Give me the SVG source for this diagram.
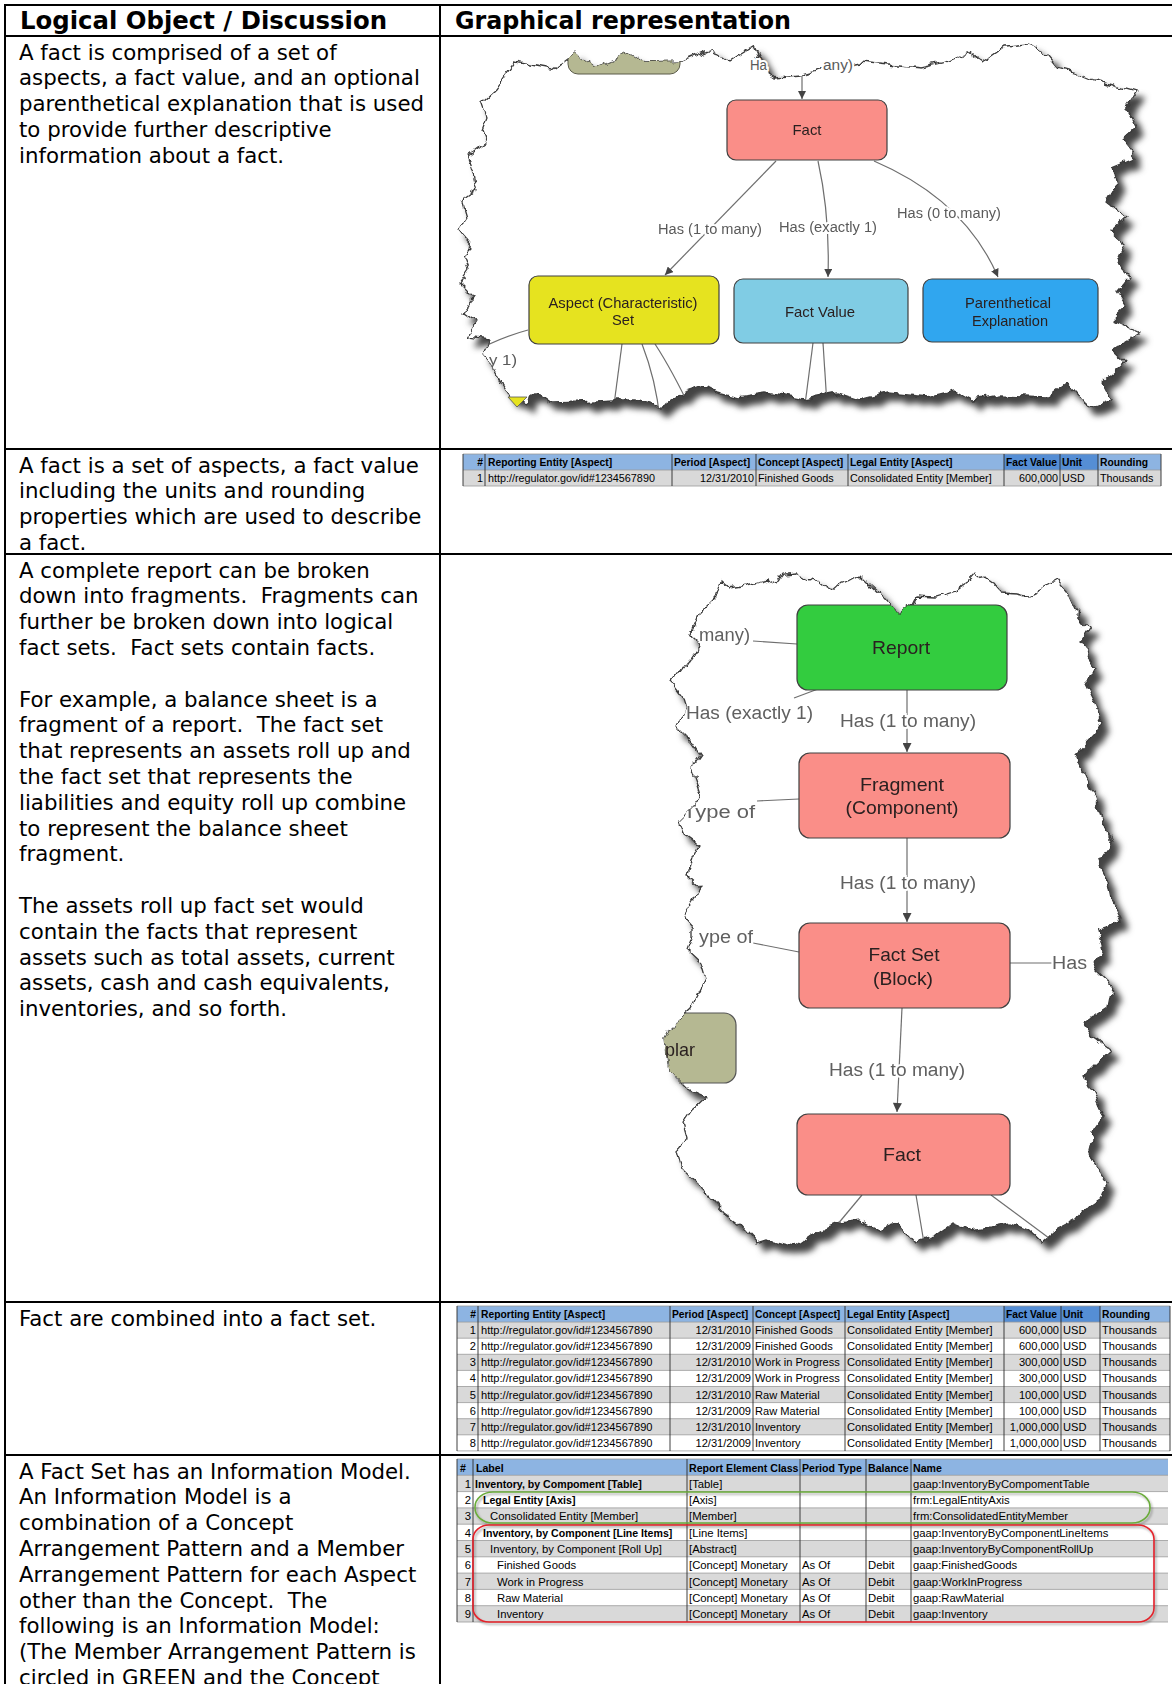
<svg xmlns="http://www.w3.org/2000/svg" width="1172" height="1684" viewBox="0 0 1172 1684">
<style>
  .body { font-family: "DejaVu Sans", Verdana, sans-serif; font-size: 21.3px; fill: #000; white-space: pre; }
  .hdr { font-family: "DejaVu Sans", Verdana, sans-serif; font-size: 24px; font-weight: bold; fill: #000; }
  .grid { stroke: #000; stroke-width: 2; }
  .tb { font-family: "Liberation Sans", Arial, sans-serif; font-size: 10.8px; fill: #000; }
  .tb2 { font-family: "Liberation Sans", Arial, sans-serif; font-size: 11.1px; fill: #000; }
  .tb3 { font-family: "Liberation Sans", Arial, sans-serif; font-size: 11.3px; fill: #000; }
  .b { font-weight: bold; font-size: 10.3px; }
  .tb3 .b, .tb3.b { font-size: 10.6px; }
  .r { text-anchor: end; }
  .vl { stroke: #2b2b2b; stroke-width: 0.9; }
  .hl { stroke: #9a9a9a; stroke-width: 0.8; }
  .hbl { fill: #8DB4E2; }
  .hdk { fill: #558ED5; }
  .gr { fill: #D9D9D9; }
  .paper { fill: #fff; stroke: #3a3a3a; stroke-width: 1.3; }
  .node { stroke: #404040; stroke-width: 1.2; }
  .nl { font-family: "Liberation Sans", Arial, sans-serif; font-size: 15px; fill: #2a2020; text-anchor: middle; }
  .nl3 { font-family: "Liberation Sans", Arial, sans-serif; font-size: 19px; fill: #2a2020; text-anchor: middle; }
  .el { font-family: "Liberation Sans", Arial, sans-serif; font-size: 14px; fill: #5a5a5a; paint-order: stroke; stroke: #fff; stroke-width: 4; }
  .el3 { font-family: "Liberation Sans", Arial, sans-serif; font-size: 18px; fill: #606060; paint-order: stroke; stroke: #fff; stroke-width: 4; }
  .edge { fill: none; stroke: #6e6e6e; stroke-width: 1.2; }
  .pink { fill: #FA8E88; }
</style>
<defs>
  <marker id="arr" viewBox="0 0 10 10" refX="10" refY="5" markerWidth="8" markerHeight="8" markerUnits="userSpaceOnUse" orient="auto">
    <path d="M0,0 L10,5 L0,10 z" fill="#444"/>
  </marker>
  <marker id="arrL" viewBox="0 0 10 10" refX="10" refY="5" markerWidth="10" markerHeight="9" markerUnits="userSpaceOnUse" orient="auto">
    <path d="M0,0 L10,5 L0,10 z" fill="#444"/>
  </marker>
  <!-- torn paper: noisy edge plus soft drop shadow -->
  <filter id="paperFx" filterUnits="userSpaceOnUse" primitiveUnits="userSpaceOnUse" x="440" y="20" width="732" height="1260" color-interpolation-filters="sRGB">
    <feTurbulence type="fractalNoise" baseFrequency="0.07" numOctaves="3" seed="7" result="n"/>
    <feDisplacementMap in="SourceGraphic" in2="n" scale="11" xChannelSelector="R" yChannelSelector="G" result="torn"/>
    <feGaussianBlur in="torn" stdDeviation="3.2" result="b"/>
    <feOffset in="b" dx="7" dy="8" result="o"/>
    <feFlood flood-color="#222" flood-opacity="0.85"/>
    <feComposite in2="o" operator="in" result="sh"/>
    <feMerge><feMergeNode in="sh"/><feMergeNode in="torn"/></feMerge>
  </filter>
  <filter id="tornFx" filterUnits="userSpaceOnUse" primitiveUnits="userSpaceOnUse" x="440" y="20" width="732" height="1260" color-interpolation-filters="sRGB">
    <feTurbulence type="fractalNoise" baseFrequency="0.07" numOctaves="3" seed="7" result="n"/>
    <feDisplacementMap in="SourceGraphic" in2="n" scale="11" xChannelSelector="R" yChannelSelector="G"/>
  </filter>
  <filter id="ringShadow" x="-5%" y="-30%" width="110%" height="160%">
    <feDropShadow dx="1.5" dy="2" stdDeviation="1.2" flood-color="#000" flood-opacity="0.35"/>
  </filter>
  <path id="paper1" d="M515,63 L552,70 L575,53 L594,68 L631,53 L645,63 L683,62 L711,50 L729,62 L753,47 L762,67 L776,77 L799,75 L827,67 L846,65 L860,62 L888,65 L921,68 L944,63 L968,53 L982,63 L1005,47 L1028,45 L1042,50 L1056,67 L1075,72 L1094,80 L1112,85 L1136,92 L1126,107 L1136,127 L1122,140 L1136,157 L1112,167 L1117,187 L1108,203 L1126,217 L1112,230 L1126,243 L1117,263 L1131,277 L1117,293 L1126,307 L1112,320 L1140,333 L1112,350 L1126,363 L1103,383 L1112,400 L1094,407 L1084,403 L1066,383 L1047,397 L1000,395 L972,400 L954,390 L926,397 L888,393 L860,400 L837,393 L804,400 L767,393 L739,397 L701,387 L683,393 L659,407 L636,400 L613,400 L580,402 L552,403 L538,393 L524,403 L510,397 L501,383 L491,363 L482,353 L491,340 L468,337 L477,323 L463,313 L473,297 L459,283 L468,270 L463,257 L473,247 L459,230 L468,217 L463,200 L477,190 L473,173 L468,157 L487,143 L482,130 L487,117 L482,103 L496,90 L505,77 Z"/>
  <path id="paper3" d="M720,580 L729,588 L748,585 L767,580 L776,585 L785,573 L795,572 L809,580 L813,577 L823,585 L832,590 L841,582 L851,580 L860,575 L870,585 L884,598 L900,615 L912,605 L916,597 L935,598 L954,592 L968,582 L977,572 L991,582 L1000,592 L1019,593 L1028,595 L1042,588 L1056,580 L1066,592 L1075,612 L1089,628 L1080,642 L1089,655 L1098,668 L1084,682 L1094,702 L1103,722 L1094,735 L1075,755 L1084,775 L1094,795 L1103,822 L1112,842 L1098,862 L1108,882 L1112,902 L1122,922 L1098,930 L1103,950 L1094,970 L1112,987 L1108,1007 L1084,1023 L1094,1037 L1112,1050 L1098,1063 L1084,1077 L1094,1097 L1103,1117 L1094,1130 L1089,1150 L1094,1163 L1108,1183 L1103,1197 L1084,1210 L1075,1220 L1056,1230 L1042,1243 L1028,1230 L1010,1223 L991,1227 L972,1230 L954,1223 L935,1237 L916,1243 L898,1223 L879,1230 L860,1220 L841,1223 L823,1230 L809,1237 L795,1247 L767,1240 L757,1243 L739,1223 L725,1213 L711,1197 L697,1183 L683,1170 L678,1150 L687,1137 L683,1123 L692,1110 L706,1097 L686,1088 L670,1072 L668,1057 L666,1040 L676,1022 L692,1007 L697,997 L706,980 L701,963 L687,950 L692,937 L692,928 L683,918 L692,902 L701,888 L687,875 L692,855 L697,845 L683,835 L678,822 L692,808 L701,795 L697,782 L692,768 L701,755 L692,742 L678,728 L687,708 L683,695 L673,682 L683,668 L692,655 L701,648 L692,632 L701,612 L715,598 Z"/>
  <mask id="clip1" maskUnits="userSpaceOnUse" x="440" y="20" width="732" height="420">
    <use href="#paper1" fill="#fff" filter="url(#tornFx)"/>
  </mask>
  <mask id="clip3" maskUnits="userSpaceOnUse" x="440" y="540" width="732" height="740">
    <use href="#paper3" fill="#fff" filter="url(#tornFx)"/>
  </mask>
</defs>

<rect x="0" y="0" width="1172" height="1684" fill="#fff"/>

<!-- header row -->
<g id="header">
  <text class="hdr" x="20" y="29" textLength="367" lengthAdjust="spacingAndGlyphs">Logical Object / Discussion</text>
  <text class="hdr" x="455" y="29" textLength="336" lengthAdjust="spacingAndGlyphs">Graphical representation</text>
</g>

<!-- left column discussion texts -->
<g id="discussion-fact">
  <text class="body" x="19" y="59.5">A fact is comprised of a set of</text>
  <text class="body" x="19" y="85.3">aspects, a fact value, and an optional</text>
  <text class="body" x="19" y="111.1">parenthetical explanation that is used</text>
  <text class="body" x="19" y="136.9">to provide further descriptive</text>
  <text class="body" x="19" y="162.7">information about a fact.</text>
</g>
<g id="discussion-fact-table">
  <text class="body" x="19" y="472.5">A fact is a set of aspects, a fact value</text>
  <text class="body" x="19" y="498.3">including the units and rounding</text>
  <text class="body" x="19" y="524.1">properties which are used to describe</text>
  <text class="body" x="19" y="549.9">a fact.</text>
</g>
<g id="discussion-report">
  <text class="body" x="19" y="577.5">A complete report can be broken</text>
  <text class="body" x="19" y="603.3">down into fragments.  Fragments can</text>
  <text class="body" x="19" y="629.1">further be broken down into logical</text>
  <text class="body" x="19" y="654.9">fact sets.  Fact sets contain facts.</text>
  <text class="body" x="19" y="706.5">For example, a balance sheet is a</text>
  <text class="body" x="19" y="732.3">fragment of a report.  The fact set</text>
  <text class="body" x="19" y="758.1">that represents an assets roll up and</text>
  <text class="body" x="19" y="783.9">the fact set that represents the</text>
  <text class="body" x="19" y="809.7">liabilities and equity roll up combine</text>
  <text class="body" x="19" y="835.5">to represent the balance sheet</text>
  <text class="body" x="19" y="861.3">fragment.</text>
  <text class="body" x="19" y="912.9">The assets roll up fact set would</text>
  <text class="body" x="19" y="938.7">contain the facts that represent</text>
  <text class="body" x="19" y="964.5">assets such as total assets, current</text>
  <text class="body" x="19" y="990.3">assets, cash and cash equivalents,</text>
  <text class="body" x="19" y="1016.1">inventories, and so forth.</text>
</g>
<g id="discussion-fact-set">
  <text class="body" x="19" y="1325.5">Fact are combined into a fact set.</text>
</g>
<g id="discussion-information-model">
  <text class="body" x="19" y="1478.5">A Fact Set has an Information Model.</text>
  <text class="body" x="19" y="1504.3">An Information Model is a</text>
  <text class="body" x="19" y="1530.1">combination of a Concept</text>
  <text class="body" x="19" y="1555.9">Arrangement Pattern and a Member</text>
  <text class="body" x="19" y="1581.7">Arrangement Pattern for each Aspect</text>
  <text class="body" x="19" y="1607.5">other than the Concept.  The</text>
  <text class="body" x="19" y="1633.3">following is an Information Model:</text>
  <text class="body" x="19" y="1659.1">(The Member Arrangement Pattern is</text>
  <text class="body" x="19" y="1684.9">circled in GREEN and the Concept</text>
</g>

<!-- ===== diagram 1: fact and its parts ===== -->
<g id="fact-diagram">
  <use href="#paper1" class="paper" filter="url(#paperFx)"/>
  <g mask="url(#clip1)">
    <rect id="hidden-node-top" x="568" y="20" width="112" height="54" rx="10" fill="#B5B892" stroke="#5a5a48" stroke-width="1"/>
    <g id="edges-1">
      <path class="edge" d="M802,40 L802,99" marker-end="url(#arr)"/>
      <path class="edge" d="M776,161 L665,275" marker-end="url(#arr)"/>
      <path class="edge" d="M818,161 Q830,215 828,277" marker-end="url(#arr)"/>
      <path class="edge" d="M874,161 Q965,200 998,277" marker-end="url(#arr)"/>
      <path class="edge" d="M528,330 Q498,338 466,356"/>
      <path class="edge" d="M622,344 L612,420"/>
      <path class="edge" d="M642,344 Q656,380 660,420"/>
      <path class="edge" d="M655,344 Q672,370 692,412"/>
      <path class="edge" d="M813,343 L803,420"/>
      <path class="edge" d="M823,343 L828,420"/>
    </g>
    <text class="el" x="710" y="234" text-anchor="middle" textLength="104" lengthAdjust="spacingAndGlyphs">Has (1 to many)</text>
    <text class="el" x="828" y="232" text-anchor="middle" textLength="98" lengthAdjust="spacingAndGlyphs">Has (exactly 1)</text>
    <text class="el" x="949" y="218" text-anchor="middle" textLength="104" lengthAdjust="spacingAndGlyphs">Has (0 to many)</text>
    <text class="el" x="489" y="365" textLength="28" lengthAdjust="spacingAndGlyphs">y 1)</text>
    <g id="node-fact">
      <rect class="node pink" x="727" y="100" width="160" height="60" rx="9"/>
      <text class="nl" x="807" y="135" textLength="29" lengthAdjust="spacingAndGlyphs">Fact</text>
    </g>
    <g id="node-aspect-set">
      <rect class="node" x="529" y="276" width="190" height="68" rx="9" fill="#E6E31F"/>
      <text class="nl" x="623" y="308" textLength="149" lengthAdjust="spacingAndGlyphs">Aspect (Characteristic)</text>
      <text class="nl" x="623" y="325" textLength="22" lengthAdjust="spacingAndGlyphs">Set</text>
    </g>
    <g id="node-fact-value">
      <rect class="node" x="734" y="279" width="174" height="64" rx="9" fill="#80CCE4"/>
      <text class="nl" x="820" y="317" textLength="70" lengthAdjust="spacingAndGlyphs">Fact Value</text>
    </g>
    <g id="node-parenthetical">
      <rect class="node" x="923" y="279" width="175" height="63" rx="9" fill="#30A6EF"/>
      <text class="nl" x="1008" y="308" textLength="86" lengthAdjust="spacingAndGlyphs">Parenthetical</text>
      <text class="nl" x="1010" y="326" textLength="76" lengthAdjust="spacingAndGlyphs">Explanation</text>
    </g>
  </g>
  <text class="el" x="750" y="70" textLength="17" lengthAdjust="spacingAndGlyphs" fill="#666">Ha</text>
  <text class="el" x="823" y="70" textLength="30" lengthAdjust="spacingAndGlyphs">any)</text>
  <path d="M508,397 L527,397 L517,407 Z" fill="#E6E31F" stroke="#555" stroke-width="0.8"/>
</g>

<!-- ===== table: single fact ===== -->
<g id="single-fact-table">
  <rect class="hbl" x="463" y="454" width="698" height="16"/>
  <rect class="hdk" x="1004" y="454" width="94" height="16"/>
  <rect class="gr" x="463" y="470" width="698" height="16"/>
  <g class="hl">
    <line x1="463" y1="454" x2="1161" y2="454"/>
    <line x1="463" y1="470" x2="1161" y2="470"/>
    <line x1="463" y1="486" x2="1161" y2="486"/>
  </g>
  <g class="vl">
    <line x1="463" y1="454" x2="463" y2="486"/>
    <line x1="485" y1="454" x2="485" y2="486"/>
    <line x1="672" y1="454" x2="672" y2="486"/>
    <line x1="756" y1="454" x2="756" y2="486"/>
    <line x1="848" y1="454" x2="848" y2="486"/>
    <line x1="1004" y1="454" x2="1004" y2="486"/>
    <line x1="1060" y1="454" x2="1060" y2="486"/>
    <line x1="1098" y1="454" x2="1098" y2="486"/>
    <line x1="1161" y1="454" x2="1161" y2="486"/>
  </g>
  <g class="tb">
    <text class="b r" x="483" y="466">#</text>
    <text class="b" x="488" y="466">Reporting Entity [Aspect]</text>
    <text class="b" x="674" y="466">Period [Aspect]</text>
    <text class="b" x="758" y="466">Concept [Aspect]</text>
    <text class="b" x="850" y="466">Legal Entity [Aspect]</text>
    <text class="b" x="1006" y="466">Fact Value</text>
    <text class="b" x="1062" y="466">Unit</text>
    <text class="b" x="1100" y="466">Rounding</text>
    <text class="r" x="483" y="482">1</text>
    <text x="488" y="482">http://regulator.gov/id#1234567890</text>
    <text class="r" x="754" y="482">12/31/2010</text>
    <text x="758" y="482">Finished Goods</text>
    <text x="850" y="482">Consolidated Entity [Member]</text>
    <text class="r" x="1058" y="482">600,000</text>
    <text x="1062" y="482">USD</text>
    <text x="1100" y="482">Thousands</text>
  </g>
</g>

<!-- ===== diagram 2: report / fragment / fact set / fact ===== -->
<g id="report-diagram">
  <use href="#paper3" class="paper" filter="url(#paperFx)"/>
  <g mask="url(#clip3)">
    <g id="node-exemplar">
      <rect x="640" y="1013" width="96" height="70" rx="12" fill="#B5B892" stroke="#555" stroke-width="1.2"/>
      <text class="nl3" x="680" y="1056" text-anchor="start" textLength="30" lengthAdjust="spacingAndGlyphs">plar</text>
    </g>
    <g id="edges-2">
      <path class="edge" d="M907,690 L907,752" marker-end="url(#arrL)"/>
      <path class="edge" d="M907,838 L907,922" marker-end="url(#arrL)"/>
      <path class="edge" d="M902,1008 L897,1112" marker-end="url(#arrL)"/>
      <path class="edge" d="M753,641 L797,644"/>
      <path class="edge" d="M818,689 L794,698"/>
      <path class="edge" d="M757,801 L799,799"/>
      <path class="edge" d="M753,943 L799,952"/>
      <path class="edge" d="M1010,963 L1052,963"/>
      <path class="edge" d="M862,1195 L812,1255"/>
      <path class="edge" d="M916,1195 L926,1255"/>
      <path class="edge" d="M991,1195 L1065,1250"/>
    </g>
    <text class="el3" x="908" y="727" text-anchor="middle" textLength="136" lengthAdjust="spacingAndGlyphs">Has (1 to many)</text>
    <text class="el3" x="908" y="889" text-anchor="middle" textLength="136" lengthAdjust="spacingAndGlyphs">Has (1 to many)</text>
    <text class="el3" x="897" y="1076" text-anchor="middle" textLength="136" lengthAdjust="spacingAndGlyphs">Has (1 to many)</text>
    <text class="el3" x="699" y="641" textLength="51" lengthAdjust="spacingAndGlyphs">many)</text>
    <text class="el3" x="686" y="719" textLength="127" lengthAdjust="spacingAndGlyphs">Has (exactly 1)</text>
    <text class="el3" x="683" y="818" textLength="72" lengthAdjust="spacingAndGlyphs">Type of</text>
    <text class="el3" x="699" y="943" textLength="54" lengthAdjust="spacingAndGlyphs">ype of</text>
    <text class="el3" x="1052" y="969" textLength="35" lengthAdjust="spacingAndGlyphs">Has</text>
    <g id="node-report">
      <rect class="node" x="797" y="605" width="210" height="85" rx="11" fill="#33CC3F"/>
      <text class="nl3" x="901" y="654" textLength="58" lengthAdjust="spacingAndGlyphs">Report</text>
    </g>
    <g id="node-fragment">
      <rect class="node pink" x="799" y="753" width="211" height="85" rx="11"/>
      <text class="nl3" x="902" y="791" textLength="84" lengthAdjust="spacingAndGlyphs">Fragment</text>
      <text class="nl3" x="902" y="814" textLength="113" lengthAdjust="spacingAndGlyphs">(Component)</text>
    </g>
    <g id="node-fact-set">
      <rect class="node pink" x="799" y="923" width="211" height="85" rx="11"/>
      <text class="nl3" x="904" y="961" textLength="71" lengthAdjust="spacingAndGlyphs">Fact Set</text>
      <text class="nl3" x="903" y="985" textLength="60" lengthAdjust="spacingAndGlyphs">(Block)</text>
    </g>
    <g id="node-fact-2">
      <rect class="node pink" x="797" y="1114" width="213" height="81" rx="11"/>
      <text class="nl3" x="902" y="1161" textLength="38" lengthAdjust="spacingAndGlyphs">Fact</text>
    </g>
  </g>
</g>

<!-- ===== table: facts combined into a fact set ===== -->
<g id="fact-set-table">
  <rect class="hbl" x="457" y="1306" width="713" height="16.1"/>
  <rect class="hdk" x="1004" y="1306" width="96" height="16.1"/>
  <rect class="gr" x="457" y="1322.1" width="713" height="16.1"/>
  <rect class="gr" x="457" y="1354.3" width="713" height="16.1"/>
  <rect class="gr" x="457" y="1386.5" width="713" height="16.1"/>
  <rect class="gr" x="457" y="1418.7" width="713" height="16.1"/>
  <g class="hl">
    <line x1="457" y1="1306" x2="1170" y2="1306"/>
    <line x1="457" y1="1322.1" x2="1170" y2="1322.1"/>
    <line x1="457" y1="1338.2" x2="1170" y2="1338.2"/>
    <line x1="457" y1="1354.3" x2="1170" y2="1354.3"/>
    <line x1="457" y1="1370.4" x2="1170" y2="1370.4"/>
    <line x1="457" y1="1386.5" x2="1170" y2="1386.5"/>
    <line x1="457" y1="1402.6" x2="1170" y2="1402.6"/>
    <line x1="457" y1="1418.7" x2="1170" y2="1418.7"/>
    <line x1="457" y1="1434.8" x2="1170" y2="1434.8"/>
    <line x1="457" y1="1450.9" x2="1170" y2="1450.9"/>
  </g>
  <g class="vl">
    <line x1="457" y1="1306" x2="457" y2="1451"/>
    <line x1="478" y1="1306" x2="478" y2="1451"/>
    <line x1="670" y1="1306" x2="670" y2="1451"/>
    <line x1="753" y1="1306" x2="753" y2="1451"/>
    <line x1="845" y1="1306" x2="845" y2="1451"/>
    <line x1="1004" y1="1306" x2="1004" y2="1451"/>
    <line x1="1061" y1="1306" x2="1061" y2="1451"/>
    <line x1="1100" y1="1306" x2="1100" y2="1451"/>
    <line x1="1170" y1="1306" x2="1170" y2="1451"/>
  </g>
  <g class="tb2">
    <text class="b r" x="476" y="1318">#</text>
    <text class="b" x="481" y="1318">Reporting Entity [Aspect]</text>
    <text class="b" x="672" y="1318">Period [Aspect]</text>
    <text class="b" x="755" y="1318">Concept [Aspect]</text>
    <text class="b" x="847" y="1318">Legal Entity [Aspect]</text>
    <text class="b" x="1006" y="1318">Fact Value</text>
    <text class="b" x="1063" y="1318">Unit</text>
    <text class="b" x="1102" y="1318">Rounding</text>

    <text class="r" x="476" y="1334.1">1</text><text x="481" y="1334.1">http://regulator.gov/id#1234567890</text><text class="r" x="751" y="1334.1">12/31/2010</text><text x="755" y="1334.1">Finished Goods</text><text x="847" y="1334.1">Consolidated Entity [Member]</text><text class="r" x="1059" y="1334.1">600,000</text><text x="1063" y="1334.1">USD</text><text x="1102" y="1334.1">Thousands</text>
    <text class="r" x="476" y="1350.2">2</text><text x="481" y="1350.2">http://regulator.gov/id#1234567890</text><text class="r" x="751" y="1350.2">12/31/2009</text><text x="755" y="1350.2">Finished Goods</text><text x="847" y="1350.2">Consolidated Entity [Member]</text><text class="r" x="1059" y="1350.2">600,000</text><text x="1063" y="1350.2">USD</text><text x="1102" y="1350.2">Thousands</text>
    <text class="r" x="476" y="1366.3">3</text><text x="481" y="1366.3">http://regulator.gov/id#1234567890</text><text class="r" x="751" y="1366.3">12/31/2010</text><text x="755" y="1366.3">Work in Progress</text><text x="847" y="1366.3">Consolidated Entity [Member]</text><text class="r" x="1059" y="1366.3">300,000</text><text x="1063" y="1366.3">USD</text><text x="1102" y="1366.3">Thousands</text>
    <text class="r" x="476" y="1382.4">4</text><text x="481" y="1382.4">http://regulator.gov/id#1234567890</text><text class="r" x="751" y="1382.4">12/31/2009</text><text x="755" y="1382.4">Work in Progress</text><text x="847" y="1382.4">Consolidated Entity [Member]</text><text class="r" x="1059" y="1382.4">300,000</text><text x="1063" y="1382.4">USD</text><text x="1102" y="1382.4">Thousands</text>
    <text class="r" x="476" y="1398.5">5</text><text x="481" y="1398.5">http://regulator.gov/id#1234567890</text><text class="r" x="751" y="1398.5">12/31/2010</text><text x="755" y="1398.5">Raw Material</text><text x="847" y="1398.5">Consolidated Entity [Member]</text><text class="r" x="1059" y="1398.5">100,000</text><text x="1063" y="1398.5">USD</text><text x="1102" y="1398.5">Thousands</text>
    <text class="r" x="476" y="1414.6">6</text><text x="481" y="1414.6">http://regulator.gov/id#1234567890</text><text class="r" x="751" y="1414.6">12/31/2009</text><text x="755" y="1414.6">Raw Material</text><text x="847" y="1414.6">Consolidated Entity [Member]</text><text class="r" x="1059" y="1414.6">100,000</text><text x="1063" y="1414.6">USD</text><text x="1102" y="1414.6">Thousands</text>
    <text class="r" x="476" y="1430.7">7</text><text x="481" y="1430.7">http://regulator.gov/id#1234567890</text><text class="r" x="751" y="1430.7">12/31/2010</text><text x="755" y="1430.7">Inventory</text><text x="847" y="1430.7">Consolidated Entity [Member]</text><text class="r" x="1059" y="1430.7">1,000,000</text><text x="1063" y="1430.7">USD</text><text x="1102" y="1430.7">Thousands</text>
    <text class="r" x="476" y="1446.8">8</text><text x="481" y="1446.8">http://regulator.gov/id#1234567890</text><text class="r" x="751" y="1446.8">12/31/2009</text><text x="755" y="1446.8">Inventory</text><text x="847" y="1446.8">Consolidated Entity [Member]</text><text class="r" x="1059" y="1446.8">1,000,000</text><text x="1063" y="1446.8">USD</text><text x="1102" y="1446.8">Thousands</text>
  </g>
</g>

<!-- ===== table: information model ===== -->
<g id="information-model-table">
  <rect class="hbl" x="457" y="1459" width="711" height="16.3"/>
  <rect class="gr" x="457" y="1475.3" width="711" height="16.3"/>
  <rect class="gr" x="457" y="1507.9" width="711" height="16.3"/>
  <rect class="gr" x="457" y="1540.5" width="711" height="16.3"/>
  <rect class="gr" x="457" y="1573.1" width="711" height="16.3"/>
  <rect class="gr" x="457" y="1605.7" width="711" height="16.3"/>
  <g class="hl">
    <line x1="457" y1="1459" x2="1168" y2="1459"/>
    <line x1="457" y1="1475.3" x2="1168" y2="1475.3"/>
    <line x1="457" y1="1491.6" x2="1168" y2="1491.6"/>
    <line x1="457" y1="1507.9" x2="1168" y2="1507.9"/>
    <line x1="457" y1="1524.2" x2="1168" y2="1524.2"/>
    <line x1="457" y1="1540.5" x2="1168" y2="1540.5"/>
    <line x1="457" y1="1556.8" x2="1168" y2="1556.8"/>
    <line x1="457" y1="1573.1" x2="1168" y2="1573.1"/>
    <line x1="457" y1="1589.4" x2="1168" y2="1589.4"/>
    <line x1="457" y1="1605.7" x2="1168" y2="1605.7"/>
    <line x1="457" y1="1622" x2="1168" y2="1622"/>
  </g>
  <g class="vl">
    <line x1="457" y1="1459" x2="457" y2="1622"/>
    <line x1="473" y1="1459" x2="473" y2="1622"/>
    <line x1="687" y1="1459" x2="687" y2="1622"/>
    <line x1="800" y1="1459" x2="800" y2="1622"/>
    <line x1="866" y1="1459" x2="866" y2="1622"/>
    <line x1="911" y1="1459" x2="911" y2="1622"/>
  </g>
  <g class="tb3">
    <text class="b" x="460" y="1471.5">#</text>
    <text class="b" x="476" y="1471.5">Label</text>
    <text class="b" x="689" y="1471.5">Report Element Class</text>
    <text class="b" x="802" y="1471.5">Period Type</text>
    <text class="b" x="868" y="1471.5">Balance</text>
    <text class="b" x="913" y="1471.5">Name</text>

    <text class="r" x="471" y="1487.8">1</text><text class="b" x="475" y="1487.8">Inventory, by Compoment [Table]</text><text x="689" y="1487.8">[Table]</text><text x="913" y="1487.8">gaap:InventoryByCompomentTable</text>
    <text class="r" x="471" y="1504.1">2</text><text class="b" x="483" y="1504.1">Legal Entity [Axis]</text><text x="689" y="1504.1">[Axis]</text><text x="913" y="1504.1">frm:LegalEntityAxis</text>
    <text class="r" x="471" y="1520.4">3</text><text x="490" y="1520.4">Consolidated Entity [Member]</text><text x="689" y="1520.4">[Member]</text><text x="913" y="1520.4">frm:ConsolidatedEntityMember</text>
    <text class="r" x="471" y="1536.7">4</text><text class="b" x="483" y="1536.7">Inventory, by Component [Line Items]</text><text x="689" y="1536.7">[Line Items]</text><text x="913" y="1536.7">gaap:InventoryByComponentLineItems</text>
    <text class="r" x="471" y="1553">5</text><text x="490" y="1553">Inventory, by Component [Roll Up]</text><text x="689" y="1553">[Abstract]</text><text x="913" y="1553">gaap:InventoryByComponentRollUp</text>
    <text class="r" x="471" y="1569.3">6</text><text x="497" y="1569.3">Finished Goods</text><text x="689" y="1569.3">[Concept] Monetary</text><text x="802" y="1569.3">As Of</text><text x="868" y="1569.3">Debit</text><text x="913" y="1569.3">gaap:FinishedGoods</text>
    <text class="r" x="471" y="1585.6">7</text><text x="497" y="1585.6">Work in Progress</text><text x="689" y="1585.6">[Concept] Monetary</text><text x="802" y="1585.6">As Of</text><text x="868" y="1585.6">Debit</text><text x="913" y="1585.6">gaap:WorkInProgress</text>
    <text class="r" x="471" y="1601.9">8</text><text x="497" y="1601.9">Raw Material</text><text x="689" y="1601.9">[Concept] Monetary</text><text x="802" y="1601.9">As Of</text><text x="868" y="1601.9">Debit</text><text x="913" y="1601.9">gaap:RawMaterial</text>
    <text class="r" x="471" y="1618.2">9</text><text x="497" y="1618.2">Inventory</text><text x="689" y="1618.2">[Concept] Monetary</text><text x="802" y="1618.2">As Of</text><text x="868" y="1618.2">Debit</text><text x="913" y="1618.2">gaap:Inventory</text>
  </g>
  <!-- member arrangement pattern (green) and concept arrangement pattern (red) -->
  <rect x="475" y="1492" width="675" height="31" rx="18" ry="15" fill="none" stroke="#6AAB3A" stroke-width="1.6" filter="url(#ringShadow)"/>
  <rect x="473" y="1525" width="681" height="97" rx="16" ry="14" fill="none" stroke="#E3232A" stroke-width="1.6" filter="url(#ringShadow)"/>
</g>

<!-- outer layout grid -->
<g id="layout-grid" class="grid">
  <line x1="4" y1="5" x2="1172" y2="5"/>
  <line x1="4" y1="36" x2="1172" y2="36"/>
  <line x1="4" y1="449" x2="1172" y2="449"/>
  <line x1="4" y1="554" x2="1172" y2="554"/>
  <line x1="4" y1="1302" x2="1172" y2="1302"/>
  <line x1="4" y1="1455" x2="1172" y2="1455"/>
  <line x1="5" y1="4" x2="5" y2="1684"/>
  <line x1="440" y1="4" x2="440" y2="1684"/>
</g>
</svg>
